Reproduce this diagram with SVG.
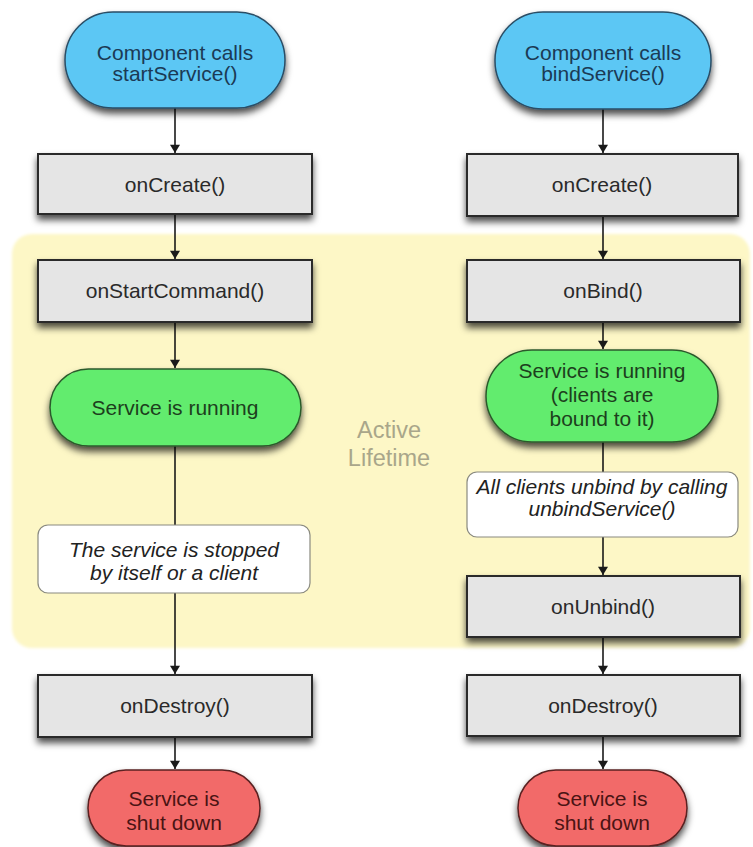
<svg xmlns="http://www.w3.org/2000/svg" width="753" height="847" viewBox="0 0 753 847">
  <defs>
    <filter id="shadow" x="-20%" y="-20%" width="140%" height="170%">
      <feDropShadow dx="0" dy="5" stdDeviation="3.5" flood-color="#000" flood-opacity="0.7"/>
    </filter>
    <filter id="soft" x="-5%" y="-5%" width="110%" height="110%">
      <feGaussianBlur stdDeviation="1.5"/>
    </filter>
    <marker id="arrow" viewBox="0 0 10 12" refX="10" refY="6" markerWidth="11" markerHeight="10" markerUnits="userSpaceOnUse" orient="auto">
      <path d="M0,0 L10,6 L0,12 Z" fill="#1a1a1a"/>
    </marker>
  </defs>
  <style>
    text { font-family: "Liberation Sans", Arial, sans-serif; font-size: 21px; text-anchor: middle; }
    .start { fill: #5cc7f4; stroke: #2a4e66; stroke-width: 1.5; }
    .run { fill: #62ec6e; stroke: #2c5a2c; stroke-width: 1.5; }
    .stop { fill: #f26a69; stroke: #5a2020; stroke-width: 1.5; }
    .box { fill: #e5e5e5; stroke: #2a2a2a; stroke-width: 2; }
    .note { fill: #ffffff; stroke: #8a8a80; stroke-width: 1.2; }
    .t-start { fill: #1b3a55; }
    .t-run { fill: #1d3f1d; }
    .t-stop { fill: #4a1414; }
    .t-box { fill: #2a2a2a; }
    .t-note { fill: #222; font-style: italic; }
    .t-zone { fill: #a9a68a; font-size: 23.5px; }
    .edge { stroke: #1a1a1a; stroke-width: 1.6; fill: none; }
    .edge.arr { marker-end: url(#arrow); }
  </style>

  <rect width="753" height="847" fill="#ffffff"/>

  <!-- active lifetime region -->
  <g id="active-lifetime">
    <rect x="12" y="234" width="738" height="414" rx="20" fill="#fdf7c6" filter="url(#soft)"/>
    <text class="t-zone" x="389" y="438">Active</text>
    <text class="t-zone" x="389" y="466">Lifetime</text>
  </g>

  <!-- connectors -->
  <g id="connectors">
    <!-- started service -->
    <line class="edge arr" x1="175" y1="108" x2="175" y2="153"/>
    <line class="edge arr" x1="175" y1="214" x2="175" y2="259"/>
    <line class="edge arr" x1="175" y1="322" x2="175" y2="368"/>
    <line class="edge" x1="175" y1="446" x2="175" y2="525"/>
    <line class="edge arr" x1="175" y1="593" x2="175" y2="674"/>
    <line class="edge arr" x1="175" y1="737" x2="175" y2="769"/>
    <!-- bound service -->
    <line class="edge arr" x1="603" y1="109" x2="603" y2="153"/>
    <line class="edge arr" x1="603" y1="216" x2="603" y2="259"/>
    <line class="edge arr" x1="603" y1="322" x2="603" y2="349"/>
    <line class="edge" x1="603" y1="442" x2="603" y2="472"/>
    <line class="edge arr" x1="603" y1="537" x2="603" y2="575"/>
    <line class="edge arr" x1="603" y1="637" x2="603" y2="674"/>
    <line class="edge arr" x1="603" y1="736" x2="603" y2="769"/>
  </g>

  <!-- started service column -->
  <g id="start-service">
    <rect class="start" x="65" y="12" width="220" height="96" rx="48" filter="url(#shadow)"/>
    <text class="t-start" x="175" y="60">Component calls</text>
    <text class="t-start" x="175" y="81">startService()</text>
  </g>
  <g id="on-create-started">
    <rect class="box" x="38" y="154" width="274" height="60" filter="url(#shadow)"/>
    <text class="t-box" x="175" y="192">onCreate()</text>
  </g>
  <g id="on-start-command">
    <rect class="box" x="38" y="260" width="274" height="62" filter="url(#shadow)"/>
    <text class="t-box" x="175" y="298">onStartCommand()</text>
  </g>
  <g id="running-started">
    <rect class="run" x="50" y="369" width="251" height="77" rx="38.5" filter="url(#shadow)"/>
    <text class="t-run" x="175" y="415">Service is running</text>
  </g>
  <g id="stopped-note">
    <rect class="note" x="38" y="525" width="272" height="68" rx="10"/>
    <text class="t-note" x="174" y="557">The service is stopped</text>
    <text class="t-note" x="174" y="580">by itself or a client</text>
  </g>
  <g id="on-destroy-started">
    <rect class="box" x="38" y="675" width="274" height="62" filter="url(#shadow)"/>
    <text class="t-box" x="175" y="713">onDestroy()</text>
  </g>
  <g id="shutdown-started">
    <rect class="stop" x="88" y="770" width="172" height="76" rx="38" filter="url(#shadow)"/>
    <text class="t-stop" x="174" y="806">Service is</text>
    <text class="t-stop" x="174" y="830">shut down</text>
  </g>

  <!-- bound service column -->
  <g id="bind-service">
    <rect class="start" x="495" y="12" width="216" height="97" rx="48" filter="url(#shadow)"/>
    <text class="t-start" x="603" y="60">Component calls</text>
    <text class="t-start" x="603" y="81">bindService()</text>
  </g>
  <g id="on-create-bound">
    <rect class="box" x="467" y="154" width="271" height="62" filter="url(#shadow)"/>
    <text class="t-box" x="602" y="192">onCreate()</text>
  </g>
  <g id="on-bind">
    <rect class="box" x="467" y="260" width="273" height="62" filter="url(#shadow)"/>
    <text class="t-box" x="603" y="298">onBind()</text>
  </g>
  <g id="running-bound">
    <rect class="run" x="486" y="350" width="232" height="92" rx="46" filter="url(#shadow)"/>
    <text class="t-run" x="602" y="378">Service is running</text>
    <text class="t-run" x="602" y="402">(clients are</text>
    <text class="t-run" x="602" y="426">bound to it)</text>
  </g>
  <g id="unbind-note">
    <rect class="note" x="467" y="472" width="271" height="65" rx="10"/>
    <text class="t-note" x="602" y="494">All clients unbind by calling</text>
    <text class="t-note" x="602" y="516">unbindService()</text>
  </g>
  <g id="on-unbind">
    <rect class="box" x="467" y="576" width="273" height="61" filter="url(#shadow)"/>
    <text class="t-box" x="603" y="614">onUnbind()</text>
  </g>
  <g id="on-destroy-bound">
    <rect class="box" x="467" y="675" width="273" height="61" filter="url(#shadow)"/>
    <text class="t-box" x="603" y="713">onDestroy()</text>
  </g>
  <g id="shutdown-bound">
    <rect class="stop" x="518" y="770" width="169" height="76" rx="38" filter="url(#shadow)"/>
    <text class="t-stop" x="602" y="806">Service is</text>
    <text class="t-stop" x="602" y="830">shut down</text>
  </g>
</svg>
